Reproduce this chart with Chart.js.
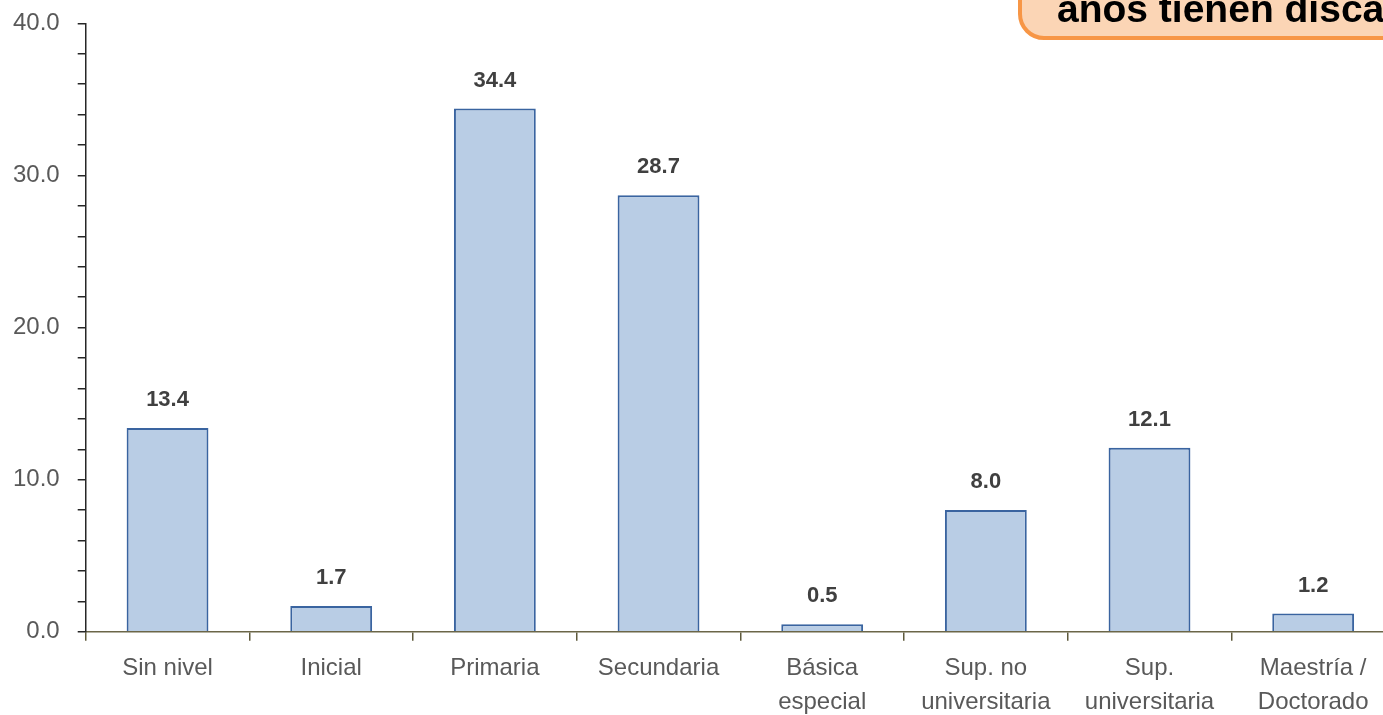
<!DOCTYPE html>
<html>
<head>
<meta charset="utf-8">
<script src="https://cdn.jsdelivr.net/npm/chart.js@4"></script>
<style>
  html, body { margin: 0; padding: 0; overflow: hidden; background: #fff; }
  #wrap { width: 1415px; height: 739px; margin-left: -5px; margin-top: -9px; }
</style>
</head>
<body>
<div id="wrap"><canvas id="nivelChart"></canvas></div>
<script>
const categories = [
  'Sin nivel', 'Inicial', 'Primaria', 'Secundaria',
  ['Básica', 'especial'], ['Sup. no', 'universitaria'], ['Sup.', 'universitaria'], ['Maestría /', 'Doctorado']
];
const porcentajes = [13.4, 1.7, 34.4, 28.7, 0.5, 8.0, 12.1, 1.2];
const calloutText = 'años tienen discapacidad';

const FONT = '"Liberation Sans", Arial, sans-serif';

const valueLabels = {
  id: 'valueLabels',
  afterDatasetsDraw(chart) {
    const ctx = chart.ctx;
    const meta = chart.getDatasetMeta(0);
    ctx.save();
    ctx.font = 'bold 22px ' + FONT;
    ctx.fillStyle = '#404040';
    ctx.textAlign = 'center';
    ctx.textBaseline = 'middle';
    meta.data.forEach((bar, i) => {
      ctx.fillText(porcentajes[i].toFixed(1), bar.x, bar.y - 28);
    });
    ctx.restore();
  }
};

const callout = {
  id: 'callout',
  afterDraw(chart) {
    const ctx = chart.ctx;
    ctx.save();
    const x = 1025, y = -31, w = 500, h = 78, r = 24;
    ctx.beginPath();
    ctx.roundRect(x, y, w, h, r);
    ctx.fillStyle = '#FBD5B5';
    ctx.fill();
    ctx.lineWidth = 4;
    ctx.strokeStyle = '#F79646';
    ctx.stroke();
    ctx.font = 'bold 39px ' + FONT;
    ctx.fillStyle = '#000';
    ctx.textBaseline = 'alphabetic';
    ctx.fillText(calloutText, 1062, 31);
    ctx.restore();
  }
};

new Chart(document.getElementById('nivelChart'), {
  type: 'bar',
  data: {
    labels: categories,
    datasets: [{
      data: porcentajes,
      backgroundColor: '#B9CDE5',
      borderColor: '#3A64A0',
      borderWidth: 2,
      categoryPercentage: 1,
      barPercentage: 0.5
    }]
  },
  options: {
    responsive: true,
    maintainAspectRatio: false,
    animation: false,
    layout: { padding: { top: 0, right: 15, left: 0, bottom: 0 } },
    plugins: { legend: { display: false }, tooltip: { enabled: false } },
    scales: {
      x: {
        grid: { drawOnChartArea: false, tickLength: 9, color: '#5f5a3c', lineWidth: 1.5, offset: true },
        border: { color: '#6b6648', width: 1.5 },
        ticks: { color: '#595959', font: { family: FONT, size: 24, lineHeight: 1.4 }, padding: 11, maxRotation: 0, autoSkip: false }
      },
      y: {
        min: 0, max: 40,
        grid: { drawOnChartArea: false, tickLength: 8, color: '#262626', lineWidth: 1.5 },
        border: { color: '#262626', width: 1.5 },
        ticks: {
          stepSize: 2,
          autoSkip: false,
          color: '#595959',
          font: { family: FONT, size: 24 },
          padding: 18,
          callback: v => (v % 10 === 0 ? v.toFixed(1) : '')
        }
      }
    }
  },
  plugins: [valueLabels, callout]
});
</script>
</body>
</html>
